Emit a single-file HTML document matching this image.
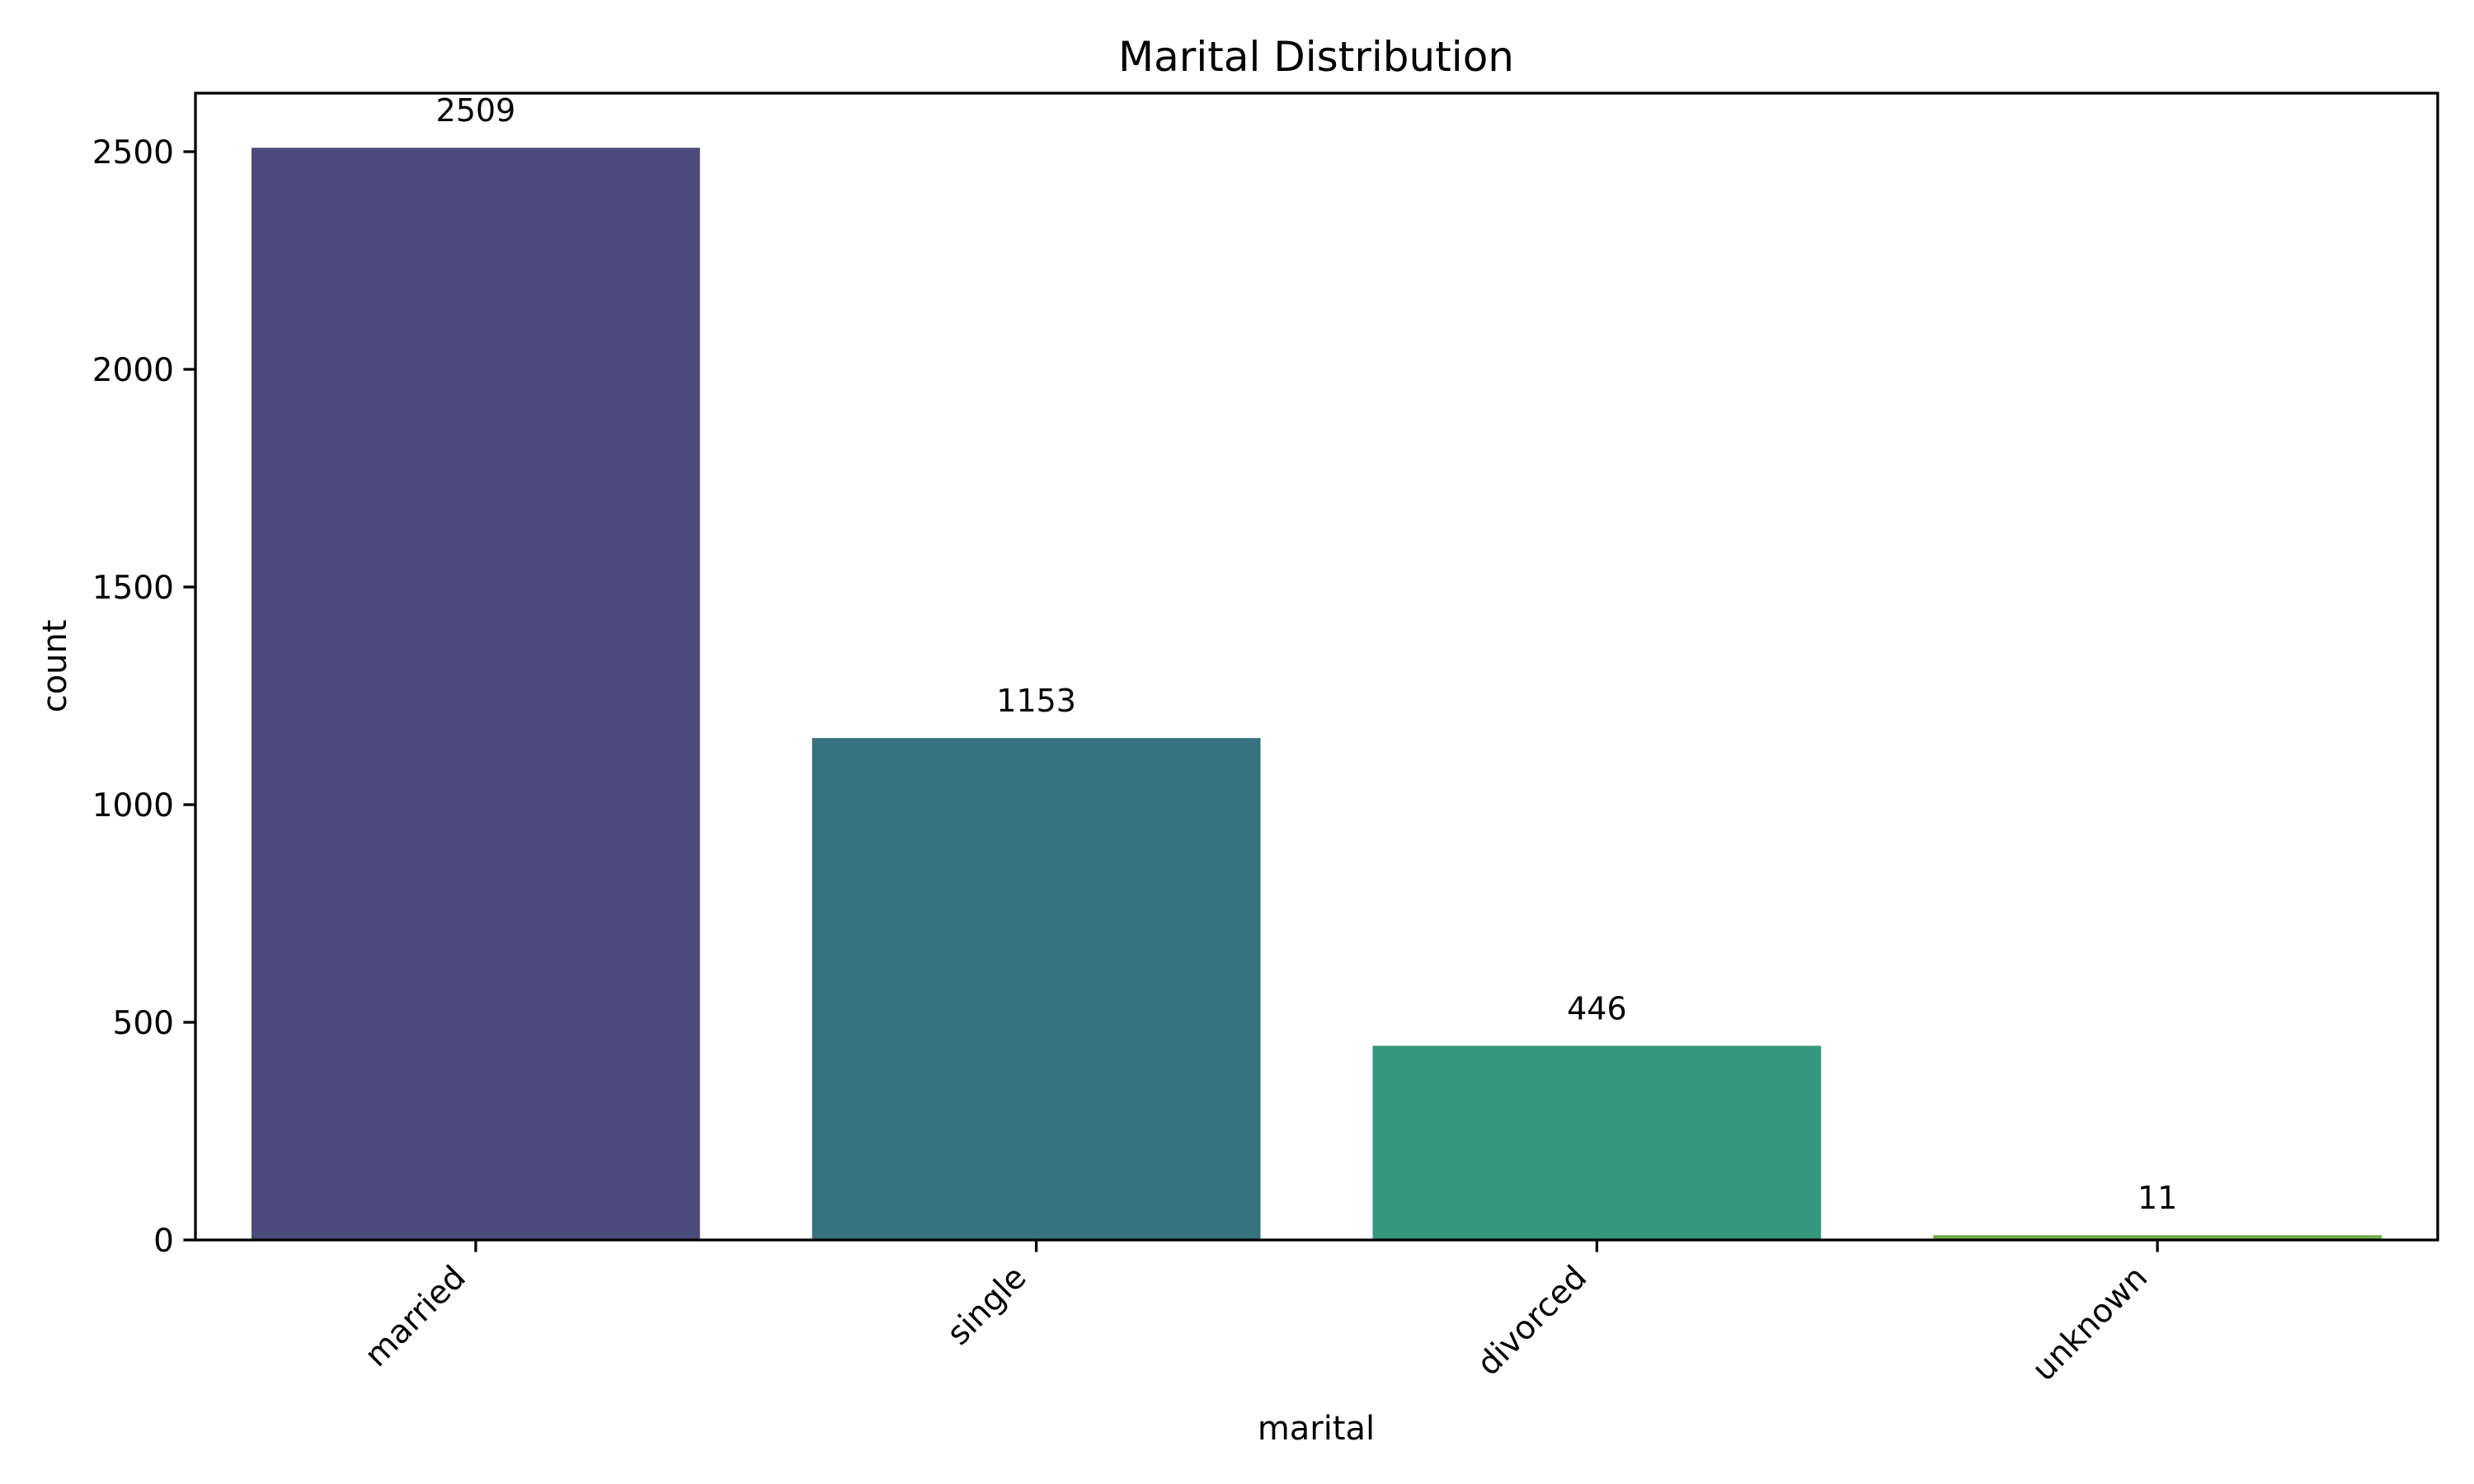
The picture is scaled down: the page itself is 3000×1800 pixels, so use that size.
<!DOCTYPE html>
<html><head><meta charset="utf-8"><style>
html,body{margin:0;padding:0;background:#fff}
svg{display:block;font-family:"DejaVu Sans","Liberation Sans",sans-serif}
</style></head><body>
<svg id="chart" width="3000" height="1800" viewBox="0 0 3000 1800" xmlns="http://www.w3.org/2000/svg">
<rect width="3000" height="1800" fill="#fff"/>
<text x="1596" y="86" font-size="50" text-anchor="middle" fill="#000">Marital Distribution</text>
<text x="1596" y="1746" font-size="40" text-anchor="middle" fill="#000">marital</text>
<text x="0" y="0" font-size="40" text-anchor="middle" fill="#000" transform="translate(80,808) rotate(-90)">count</text>
<g id="plot"></g>
</svg>
<script>
const categories = ["married","single","divorced","unknown"];
const counts = [2509,1153,446,11];
const yTicks = [0,500,1000,1500,2000,2500];
const colors = ["#4b4c7c","#37727f","#35977b","#76b04e"];

const L=237,R=2956,T=113,B=1504;
const ns="http://www.w3.org/2000/svg";
const g=document.getElementById('plot');
const ymax=Math.max(...counts)*1.05;
const n=categories.length;
function xs(i){return L+(i+0.5)/n*(R-L);}
function ys(v){return B-v/ymax*(B-T);}
const unit=(R-L)/n;
function mk(tag,attrs,parent){const e=document.createElementNS(ns,tag);for(const k in attrs)e.setAttribute(k,attrs[k]);(parent||g).appendChild(e);return e;}

counts.forEach((v,i)=>{
  const w=unit*0.8;
  const r=mk('rect',{x:xs(i)-w/2,y:ys(v),width:w,height:B-ys(v),fill:colors[i]});
  
  
  const t=mk('text',{x:xs(i),y:ys(v)-32,'font-size':38,'text-anchor':'middle',fill:'#000'});
  t.textContent=String(v);
  
  
  const tk=mk('line',{x1:xs(i),x2:xs(i),y1:B,y2:B+14.6,stroke:'#000','stroke-width':3.3});
  
  
  const lx=xs(i)-30, ly=B+28;
  const lb=mk('text',{x:lx,y:ly,'font-size':39,'text-anchor':'end','dominant-baseline':'hanging',fill:'#000',transform:`rotate(-45 ${lx} ${ly})`});
  lb.textContent=categories[i];
  
  
});
yTicks.forEach(v=>{
  const y=ys(v);
  const tk=mk('line',{x1:L-14.6,x2:L,y1:y,y2:y,stroke:'#000','stroke-width':3.3});
  
  
  const t=mk('text',{x:L-26,y:y+14,'font-size':39,'text-anchor':'end',fill:'#000'});
  t.textContent=String(v);
  
  
});
const fr=mk('rect',{x:L,y:T,width:R-L,height:B-T,fill:'none',stroke:'#000','stroke-width':3.3});


</script>
</body></html>
